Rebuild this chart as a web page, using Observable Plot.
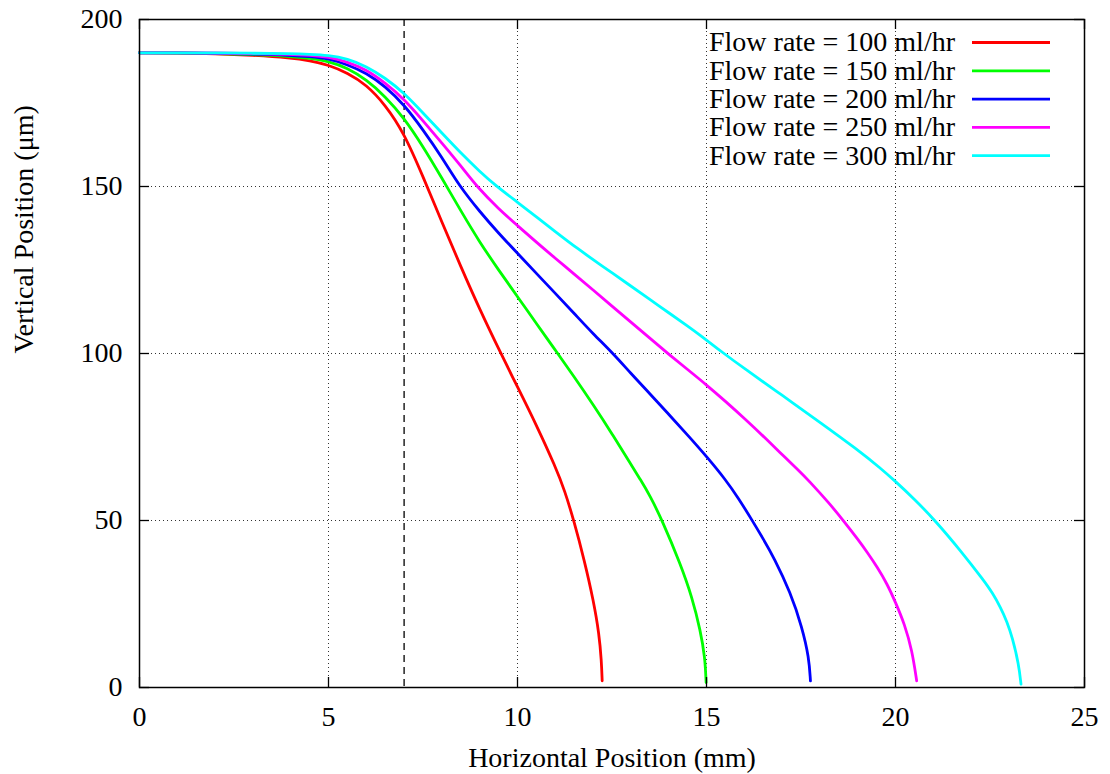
<!DOCTYPE html>
<html><head><meta charset="utf-8">
<script src="https://cdn.jsdelivr.net/npm/d3@7"></script>
<script src="https://cdn.jsdelivr.net/npm/@observablehq/plot@0.6"></script>
<style>body{margin:0;background:#fff;} svg{display:block;}</style>
</head><body><div id="chart"></div>
<script>
const xTicks = [0, 5, 10, 15, 20, 25];
const yTicks = [0, 50, 100, 150, 200];
const markerX = [7];
const xLabel = "Horizontal Position (mm)";
const yLabel = "Vertical Position (μm)";
const seriesNames = ["Flow rate = 100 ml/hr", "Flow rate = 150 ml/hr", "Flow rate = 200 ml/hr", "Flow rate = 250 ml/hr", "Flow rate = 300 ml/hr"];
const seriesColors = ["#ff0000", "#00ff00", "#0000ff", "#ff00ff", "#00ffff"];

const flow100 = [[0,190],[1,190],[2,189.8],[3,189.3],[4,188.5],[4.5,187.7],[5,186.4],[5.5,184],[6,180.5],[6.5,174.5],[7,166],[7.5,153],[8,139.3],[8.5,126],[9,113.2],[9.56,100],[10,90],[10.5,78.6],[11,66.2],[11.25,58.9],[11.49,50],[11.77,38],[12.01,26],[12.16,16],[12.22,8],[12.24,2]];
const flow150 = [[0,190],[1,190],[2,189.8],[3,189.5],[4,189],[4.5,188.4],[5,187.5],[5.5,185.5],[6,182],[6.5,177],[7,170.5],[7.5,162],[8,152.5],[8.5,142.7],[9,133.3],[9.5,125],[10,117],[10.5,109],[11,101],[11.5,93],[12,84.7],[12.5,76],[13,66.8],[13.25,62.3],[13.5,57.5],[13.83,50],[14.31,37],[14.62,27],[14.84,17],[14.96,9],[14.99,1.5]];
const flow200 = [[0,190],[1,190],[2,189.9],[3,189.7],[4,189.3],[4.5,188.9],[5,188.3],[5.5,186.5],[6,184],[6.5,180],[7,174.5],[7.5,167],[8,158.8],[8.47,150],[9,142.5],[9.5,136],[10,130],[10.5,124],[11,118],[11.5,112],[12,105.9],[12.53,100],[13,94],[13.5,88],[14,81.8],[14.5,75.6],[15,69.2],[15.5,62.3],[15.85,56.6],[16.21,50],[16.5,44.5],[16.78,39],[17.22,28.5],[17.53,18],[17.71,9],[17.75,2]];
const flow250 = [[0,190],[1,190],[2,190],[3,189.8],[4,189.6],[4.5,189.3],[5,188.8],[5.5,187.3],[6,185],[6.5,181],[7,176.2],[7.5,169.7],[8,163],[8.5,156.2],[8.92,150],[9.5,143.3],[10,138.3],[10.5,133.3],[11,128.5],[11.5,123.8],[12,119],[12.5,114.2],[13,109.4],[13.5,104.6],[14,99.8],[14.5,95.2],[15,90.6],[15.5,85.7],[16,80.6],[16.6,74.2],[17,69.7],[17.44,65],[17.7,62],[18.26,55],[18.62,50],[19.03,44],[19.25,40.5],[19.52,36],[19.78,31],[20,25.5],[20.24,19],[20.44,11],[20.56,2]];
const flow300 = [[0,190],[1,190],[2,190],[3,189.9],[4,189.8],[4.5,189.6],[5,189.3],[5.5,188.3],[6,186],[6.5,182.5],[7,178],[7.5,172],[8,166],[8.5,160],[9,154.5],[9.45,150],[10,145.3],[10.5,140.9],[11,136.5],[11.6,131.3],[12.2,126.5],[13,120.2],[13.5,116.2],[14,112.2],[14.5,108.2],[14.84,105.4],[15.46,100],[16,95.5],[17,87.5],[17.93,80],[19,71.2],[19.6,65.7],[20,61.7],[20.5,56.4],[21.05,50],[21.72,41],[22.34,32],[22.56,28.4],[22.78,24],[22.95,19.7],[23.09,15],[23.26,7],[23.32,1]];

const allSeries = [flow100, flow150, flow200, flow250, flow300];
const rows = [];
allSeries.forEach((s, i) => s.forEach(([x, y]) => rows.push({x, y, series: seriesNames[i]})));

const W = 1110, H = 774;
const mL = 139, mR = 26, mT = 19, mB = 87;
const plotW = W - mL - mR, plotH = H - mT - mB;
const tickLen = 10;

function legendMark(index, scales, values, dimensions) {
  const g = d3.create("svg:g");
  const right = dimensions.width - dimensions.marginRight;
  seriesNames.forEach((name, i) => {
    const y = dimensions.marginTop + 23.5 + i * 28.3;
    g.append("text").attr("x", right - 129).attr("y", y).attr("dy", "0.32em")
      .attr("text-anchor", "end").attr("fill", "black").text(name);
    g.append("line").attr("x1", right - 112).attr("x2", right - 34).attr("y1", y).attr("y2", y)
      .attr("stroke", seriesColors[i]).attr("stroke-width", 2.8);
  });
  return g.node();
}

const chart = Plot.plot({
  width: W, height: H,
  marginLeft: mL, marginRight: mR, marginTop: mT, marginBottom: mB,
  style: {fontFamily: "'Liberation Serif', 'Times New Roman', serif", fontSize: "28px", color: "black", background: "white"},
  x: {domain: [0, 25]},
  y: {domain: [0, 200]},
  color: {domain: seriesNames, range: seriesColors},
  marks: [
    Plot.gridX(xTicks, {stroke: "#333", strokeOpacity: 1, strokeDasharray: "1,3"}),
    Plot.gridY(yTicks, {stroke: "#333", strokeOpacity: 1, strokeDasharray: "1,3"}),
    Plot.ruleX(markerX, {stroke: "black", strokeWidth: 1.3, strokeDasharray: "7,5"}),
    Plot.line(rows, {x: "x", y: "y", z: "series", stroke: "series", strokeWidth: 2.8, curve: "basis", strokeLinejoin: "round"}),
    Plot.ruleX(xTicks, {stroke: "black", strokeWidth: 1.3, insetTop: plotH - tickLen}),
    Plot.ruleX(xTicks, {stroke: "black", strokeWidth: 1.3, insetBottom: plotH - tickLen}),
    Plot.ruleY(yTicks, {stroke: "black", strokeWidth: 1.3, insetRight: plotW - tickLen}),
    Plot.ruleY(yTicks, {stroke: "black", strokeWidth: 1.3, insetLeft: plotW - tickLen}),
    Plot.frame({stroke: "black", strokeWidth: 1.5}),
    Plot.axisX(xTicks, {tickSize: 0, tickPadding: 19, label: null}),
    Plot.axisY(yTicks, {tickSize: 0, tickPadding: 17, label: null}),
    Plot.text([xLabel], {text: d => d, frameAnchor: "bottom", lineAnchor: "top", dy: 60}),
    Plot.text([yLabel], {text: d => d, frameAnchor: "left", rotate: -90, lineAnchor: "middle", dx: -115}),
    legendMark
  ]
});
document.getElementById("chart").appendChild(chart);
</script>
</body></html>
